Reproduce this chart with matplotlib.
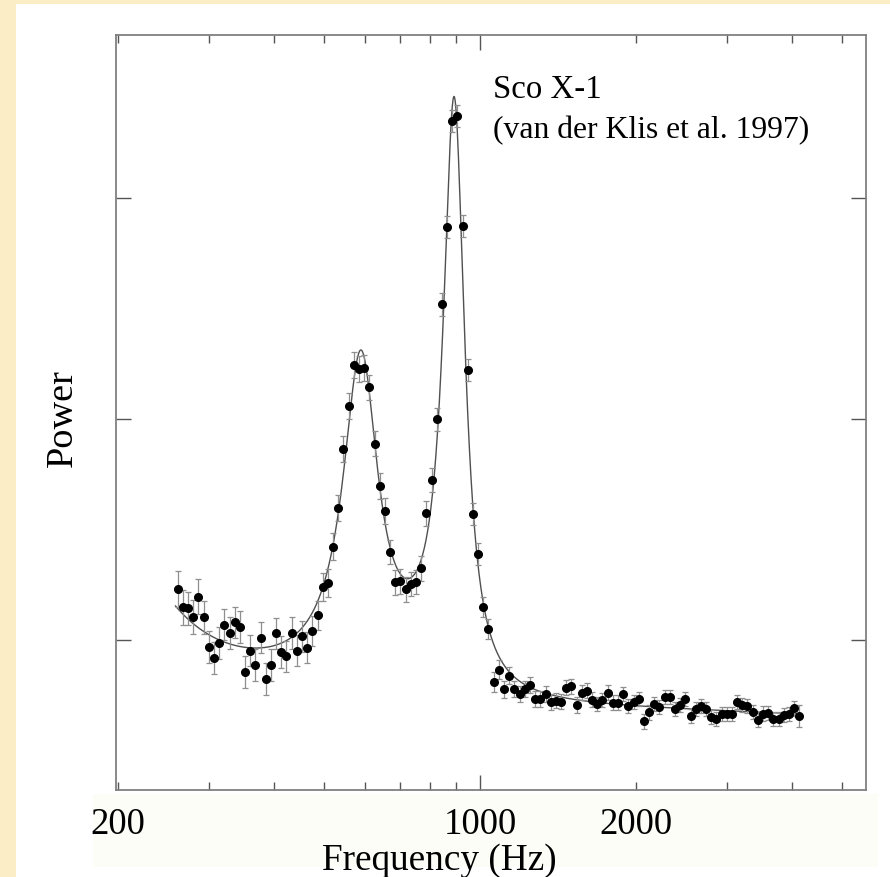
import matplotlib
matplotlib.use("Agg")
import matplotlib.pyplot as plt
import numpy as np
from matplotlib.patches import Rectangle
from matplotlib.ticker import FixedLocator, FuncFormatter, NullFormatter

plt.rcParams['font.family'] = ['Liberation Serif', 'DejaVu Serif']

# power spectrum bins (Hz) and power (arbitrary units, y ticks at 2, 3, 4)
freq = [260.8, 266.9, 273.1, 279.4, 286.0, 292.6, 299.5, 306.4, 313.6, 320.9,
        328.3, 335.9, 343.8, 351.8, 360.0, 368.4, 376.9, 385.7, 394.7, 403.9,
        413.3, 422.9, 432.8, 442.9, 453.2, 463.7, 474.6, 485.6, 496.9, 508.5,
        520.4, 532.5, 544.9, 557.6, 570.6, 583.9, 597.5, 611.4, 625.7, 640.2,
        655.1, 670.4, 686.0, 701.9, 718.3, 735.0, 752.2, 769.7, 787.6, 806.0,
        824.7, 843.9, 863.6, 883.7, 904.3, 925.3, 946.9, 968.9, 991.5, 1014.6,
        1038, 1062, 1087, 1113, 1138, 1165, 1192, 1220, 1248, 1277,
        1307, 1338, 1369, 1401, 1433, 1467, 1501, 1536, 1572, 1608,
        1646, 1684, 1723, 1763, 1804, 1846, 1889, 1933, 1978, 2025,
        2072, 2120, 2169, 2220, 2272, 2324, 2379, 2434, 2491, 2549,
        2608, 2669, 2731, 2794, 2860, 2926, 2994, 3064, 3136, 3209,
        3283, 3359, 3438, 3518, 3600, 3684, 3770, 3857, 3947, 4039,
        4133]

power = [2.231, 2.148, 2.143, 2.103, 2.196, 2.103, 1.970, 1.919, 1.985, 2.068,
         2.030, 2.080, 2.059, 1.854, 1.952, 1.887, 2.010, 1.822, 1.887, 2.030,
         1.946, 1.926, 2.032, 1.952, 2.017, 1.964, 2.039, 2.112, 2.240, 2.258,
         2.422, 2.597, 2.864, 3.060, 3.244, 3.226, 3.231, 3.143, 2.889, 2.698,
         2.585, 2.398, 2.261, 2.266, 2.229, 2.253, 2.262, 2.324, 2.573, 2.724,
         2.999, 3.520, 3.867, 4.350, 4.372, 3.875, 3.223, 2.570, 2.389, 2.148,
         2.050, 1.809, 1.866, 1.777, 1.839, 1.778, 1.754, 1.777, 1.796, 1.734,
         1.734, 1.754, 1.721, 1.725, 1.721, 1.784, 1.790, 1.706, 1.762, 1.771,
         1.729, 1.710, 1.729, 1.762, 1.716, 1.716, 1.756, 1.703, 1.719, 1.734,
         1.632, 1.673, 1.712, 1.698, 1.743, 1.743, 1.686, 1.707, 1.733, 1.657,
         1.686, 1.701, 1.686, 1.653, 1.644, 1.664, 1.665, 1.664, 1.719, 1.705,
         1.700, 1.673, 1.638, 1.667, 1.670, 1.643, 1.643, 1.659, 1.665, 1.691,
         1.657]

err = [0.080, 0.078, 0.076, 0.078, 0.080, 0.075, 0.072, 0.074, 0.072, 0.070,
       0.072, 0.071, 0.073, 0.072, 0.070, 0.072, 0.071, 0.073, 0.072, 0.070,
       0.072, 0.071, 0.072, 0.070, 0.071, 0.070, 0.068, 0.066, 0.065, 0.064,
       0.062, 0.060, 0.060, 0.060, 0.058, 0.058, 0.058, 0.058, 0.058, 0.058,
       0.058, 0.056, 0.056, 0.056, 0.056, 0.056, 0.055, 0.055, 0.055, 0.054,
       0.052, 0.052, 0.050, 0.050, 0.050, 0.050, 0.050, 0.050, 0.048, 0.045,
       0.045, 0.045, 0.044, 0.038, 0.037, 0.036, 0.036, 0.036, 0.036, 0.036,
       0.036, 0.036, 0.036, 0.035, 0.035, 0.035, 0.035, 0.035, 0.035, 0.034,
       0.034, 0.033, 0.033, 0.033, 0.033, 0.033, 0.033, 0.032, 0.032, 0.032,
       0.034, 0.033, 0.032, 0.032, 0.032, 0.032, 0.032, 0.032, 0.032, 0.032,
       0.032, 0.032, 0.032, 0.032, 0.032, 0.032, 0.032, 0.032, 0.032, 0.032,
       0.032, 0.032, 0.032, 0.032, 0.032, 0.032, 0.032, 0.032, 0.032, 0.034,
       0.050]

# fitted model: sloped constant + low-frequency power law + Lorentzians
bg_level, bg_slope = 1.72, 0.09
lf_amp, lf_ref, lf_index = 0.30, 261.0, 4.0
qpo_nu = [588.0, 891.0, 740.0]
qpo_hw = [56.0, 52.0, 160.0]
qpo_amp = [1.432, 2.633, 0.10]


def model(f):
    p = bg_level - bg_slope * np.log10(f / 1000.0) + lf_amp * (f / lf_ref) ** (-lf_index)
    for nu, hw, a in zip(qpo_nu, qpo_hw, qpo_amp):
        p = p + a * hw ** 2 / ((f - nu) ** 2 + hw ** 2)
    return p


fig = plt.figure(figsize=(8.9, 8.78), dpi=100, facecolor='#fbeec6')
fig.add_artist(Rectangle((16 / 890, 0), 1, 1 - 5 / 878, transform=fig.transFigure,
                         facecolor='white', edgecolor='none', zorder=-10))
fig.add_artist(Rectangle((93 / 890, 1 - 868 / 878), (878 - 93) / 890, (868 - 795) / 878,
                         transform=fig.transFigure, facecolor='#fdfdf7', edgecolor='none', zorder=-9))

ax = fig.add_axes([116 / 890, 1 - 791 / 878, 750 / 890, 755 / 878])

fgrid = np.geomspace(freq[0] * 0.99, freq[-1], 1500)
ax.plot(fgrid, model(fgrid), color='#505050', lw=1.0, zorder=2)
ax.errorbar(freq, power, yerr=err, fmt='o', color='black', ms=5.5,
            ecolor='#8f8f8f', elinewidth=0.9, capsize=2.5, capthick=0.9, zorder=3)

ax.set_xscale('log')
ax.set_xlim(198.2, 5560)
ax.set_ylim(1.321, 4.738)

ax.xaxis.set_major_locator(FixedLocator([1000]))
ax.xaxis.set_minor_locator(FixedLocator([200, 300, 400, 500, 600, 700, 800, 900,
                                         2000, 3000, 4000, 5000]))
ax.xaxis.set_major_formatter(FuncFormatter(lambda v, p: '%d' % round(v)))
ax.xaxis.set_minor_formatter(FuncFormatter(
    lambda v, p: '%d' % round(v) if round(v) in (200, 2000) else ''))
ax.set_yticks([2, 3, 4])
ax.yaxis.set_major_formatter(NullFormatter())

ax.tick_params(which='both', direction='in', top=True, right=True,
               color='#555555', width=1.0, labelsize=26.5, pad=12)
ax.tick_params(which='major', length=11)
ax.tick_params(which='minor', length=6)

for s in ax.spines.values():
    s.set_color('#808080')
    s.set_linewidth(1.3)

ax.set_xlabel('Frequency (Hz)', fontsize=26.8)
ax.xaxis.set_label_coords(0.431, -0.069)
ax.set_ylabel('Power', fontsize=27.5)
ax.yaxis.set_label_coords(-0.048, 0.494)

ax.text(0.503, 0.918, 'Sco X-1', transform=ax.transAxes, fontsize=23.7, va='baseline')
ax.text(0.503, 0.865, '(van der Klis et al. 1997)', transform=ax.transAxes,
        fontsize=22.8, va='baseline')

fig.savefig('out.png', dpi=100)
